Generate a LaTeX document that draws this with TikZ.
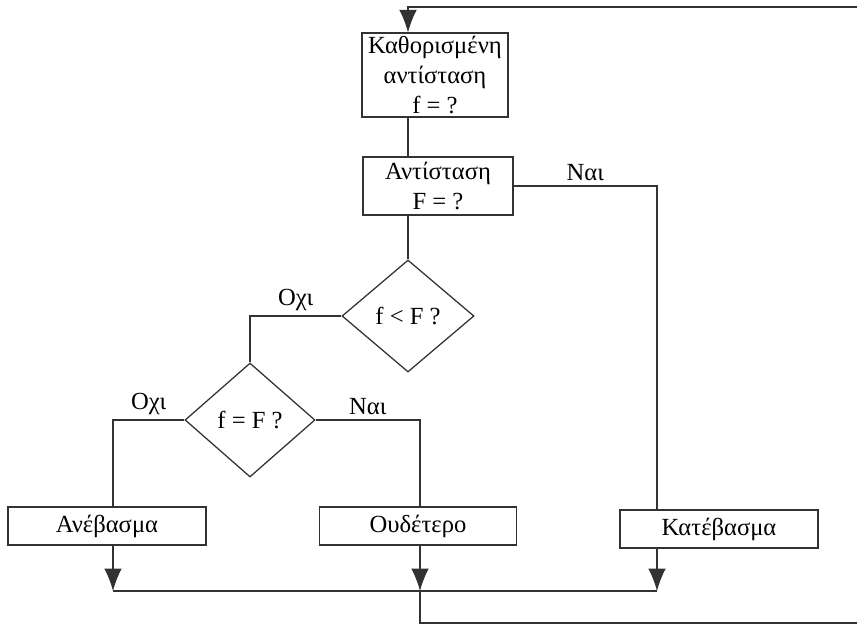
\documentclass[tikz,border=0pt]{standalone}
\usepackage{fontspec}
\setmainfont{Liberation Serif}
\usepackage{tikz}
\usetikzlibrary{arrows.meta,positioning,calc,shapes.geometric}
\definecolor{inkgray}{RGB}{50,50,50}
\newcommand{\flowfont}{\fontsize{17.5}{21.5}\selectfont}
\tikzset{
  wire/.style={draw=inkgray, line width=0.9pt},
  flowarr/.style={wire, -{Latex[length=5.6mm, width=4.4mm]}},
  blk/.style={draw=inkgray, line width=0.9pt, fill=white, align=center,
              inner sep=0pt, font=\flowfont},
  cond/.style={diamond, draw=inkgray, line width=0.9pt, aspect=1.18,
               inner sep=0pt, font=\flowfont},
  tag/.style={above, inner sep=3pt, font=\flowfont},
}
\begin{document}
\begin{tikzpicture}[x=0.025cm, y=-0.025cm]
  \useasboundingbox (0,0) rectangle (857,626);

  \node[blk, minimum width=3.65cm, minimum height=2.1cm] (set) at (435,75)
    {Καθορισμένη\\αντίσταση\\f = ?};
  \node[blk, minimum width=3.75cm, minimum height=1.45cm] (meas) at (438,186)
    {Αντίσταση\\F = ?};
  \node[cond, minimum width=3.3cm, minimum height=2.8cm] (dlt) at (408,316) {f < F ?};
  \node[cond, minimum width=3.25cm, minimum height=2.85cm] (deq) at (250,420) {f = F ?};
  \node[blk, minimum width=4.95cm, minimum height=0.95cm] (up) at (107,526) {Ανέβασμα};
  \node[blk, minimum width=4.93cm, minimum height=0.95cm] (neu) at (418,526) {Ουδέτερο};
  \node[blk, minimum width=4.95cm, minimum height=0.95cm] (down) at (719,529) {Κατέβασμα};

  \coordinate (mergeL) at (113,591);
  \coordinate (mergeM) at (420,591);
  \coordinate (mergeR) at (657,591);
  \coordinate (loopin) at (857,7);
  \coordinate (loopout) at (857,623);

  \draw[flowarr] (loopin) -| (set.north -| dlt.north);
  \draw[wire] (set.south -| dlt.north) -- (meas.north -| dlt.north);
  \draw[wire] (meas.south -| dlt.north) -- (dlt.north);
  \draw[wire] (meas.east) -| (down.north -| mergeR) node[tag, pos=0.25] {Ναι};
  \draw[wire] (dlt.west) -| (deq.north) node[tag, pos=0.25] {Οχι};
  \draw[wire] (deq.west) -| (up.north -| mergeL) node[tag, pos=0.25] {Οχι};
  \draw[wire] (deq.east) -| (neu.north -| mergeM) node[tag, pos=0.25] {Ναι};

  \draw[flowarr] (up.south -| mergeL) -- (mergeL);
  \draw[flowarr] (neu.south -| mergeM) -- (mergeM);
  \draw[flowarr] (down.south -| mergeR) -- (mergeR);
  \draw[wire] (mergeL) -- (mergeR);
  \draw[wire] (mergeM) |- (loopout);
\end{tikzpicture}
\end{document}
